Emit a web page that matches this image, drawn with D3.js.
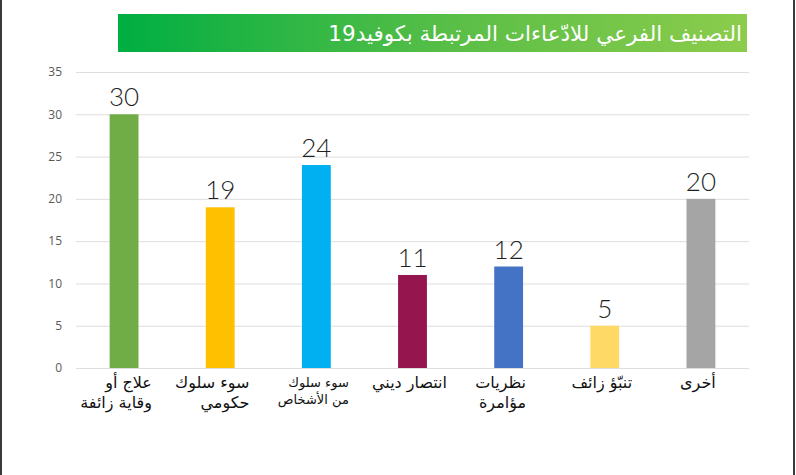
<!DOCTYPE html>
<html lang="ar">
<head>
<meta charset="utf-8">
<title>covid claims</title>
<script src="https://cdn.jsdelivr.net/npm/d3@7"></script>
<style>
  body { margin: 0; background: #fff; }
  svg { display: block; }
  .tick text { font-family: "Open Sans", sans-serif; font-size: 12px; fill: #595959; }
  .value { font-family: Lato, sans-serif; font-weight: 300; font-size: 26px; fill: #1f1f1f; }
  .cat { font-family: "DejaVu Sans", sans-serif; fill: #111; }
</style>
</head>
<body>
<div id="chart"></div>
<script>
// data
var title = "التصنيف الفرعي للادّعاءات المرتبطة بكوفيد19"
var categories = ["علاج أو وقاية زائفة", "سوء سلوك حكومي", "سوء سلوك من الأشخاص", "انتصار ديني", "نظريات مؤامرة", "تنبؤ زائف", "أخرى"]
var catLines = [["علاج أو", "وقاية زائفة"], ["سوء سلوك", "حكومي"], ["سوء سلوك", "من الأشخاص"], ["انتصار ديني"], ["نظريات", "مؤامرة"], ["تنبّؤ زائف"], ["أخرى"]]
var values = [30, 19, 24, 11, 12, 5, 20]
var colors = ["#70ad47", "#ffc000", "#00b0f0", "#95154f", "#4472c4", "#ffd966", "#a5a5a5"]
var yTicks = [0, 5, 10, 15, 20, 25, 30, 35]

var w = 796, h = 475
var pLeft = 76, pRight = 749, pTop = 72, pBottom = 368

var svg = d3.select("#chart").append("svg")
  .attr("width", w)
  .attr("height", h)

// frame lines at the sides
svg.append("line").attr("x1", 1).attr("x2", 1).attr("y1", 0).attr("y2", h)
  .attr("stroke", "#3a3a3a").attr("stroke-width", 2)
svg.append("line").attr("x1", 794).attr("x2", 794).attr("y1", 0).attr("y2", h)
  .attr("stroke", "#3a3a3a").attr("stroke-width", 2)

// title banner
var grad = svg.append("defs").append("linearGradient").attr("id", "g1")
grad.append("stop").attr("offset", "0%").attr("stop-color", "#00ae42")
grad.append("stop").attr("offset", "55%").attr("stop-color", "#5cbf47")
grad.append("stop").attr("offset", "100%").attr("stop-color", "#8ccc4c")
svg.append("rect")
  .attr("x", 118).attr("y", 14).attr("width", 629).attr("height", 38)
  .attr("fill", "url(#g1)")
svg.append("text")
  .attr("x", 742).attr("y", 41)
  .attr("direction", "rtl")
  .attr("text-anchor", "start")
  .style("font-family", "DejaVu Sans, sans-serif")
  .style("font-size", "21.5px")
  .attr("fill", "#fff")
  .text(title)

var xScale = d3.scaleBand()
  .domain(categories)
  .range([pLeft, pRight])
  .paddingInner(0.7)
  .paddingOuter(0.35)

var yScale = d3.scaleLinear()
  .domain([0, 35])
  .range([pBottom, pTop])

// grid
var yAxis = d3.axisLeft(yScale)
  .tickValues(yTicks)
  .tickSize(-(pRight - pLeft))
  .tickPadding(14)

var ga = svg.append("g")
  .attr("transform", "translate(" + pLeft + ",0)")
  .call(yAxis)
ga.select(".domain").remove()
ga.selectAll(".tick line").attr("stroke", "#dedede")

// bars
svg.selectAll("rect.bar")
  .data(values)
  .enter()
  .append("rect")
  .attr("class", "bar")
  .attr("x", function(d, i) { return xScale(categories[i]) })
  .attr("y", function(d) { return yScale(d) })
  .attr("width", xScale.bandwidth())
  .attr("height", function(d) { return yScale(0) - yScale(d) })
  .attr("fill", function(d, i) { return colors[i] })

// value labels
svg.selectAll("text.value")
  .data(values)
  .enter()
  .append("text")
  .attr("class", "value")
  .attr("x", function(d, i) { return xScale(categories[i]) + xScale.bandwidth() / 2 })
  .attr("y", function(d) { return yScale(d) - 8 })
  .attr("text-anchor", "middle")
  .text(function(d) { return d })

// category labels (right aligned lines, block roughly centred under the bar)
catLines.forEach(function(lines, i) {
  var cx = xScale(categories[i]) + xScale.bandwidth() / 2
  var small = i == 2
  var g = svg.append("g")
  var t = g.selectAll("text")
    .data(lines)
    .enter()
    .append("text")
    .attr("class", "cat")
    .attr("direction", "rtl")
    .attr("text-anchor", "start")
    .style("font-size", small ? "13px" : "16px")
    .attr("y", function(d, j) { return (small ? 387 : 388) + j * (small ? 17 : 20) })
    .text(function(d) { return d })
  var maxW = 0
  t.each(function() { maxW = Math.max(maxW, this.getComputedTextLength()) })
  t.attr("x", cx + maxW / 2 - (lines.length > 1 && !small ? 8 : 3))
})
</script>
</body>
</html>
